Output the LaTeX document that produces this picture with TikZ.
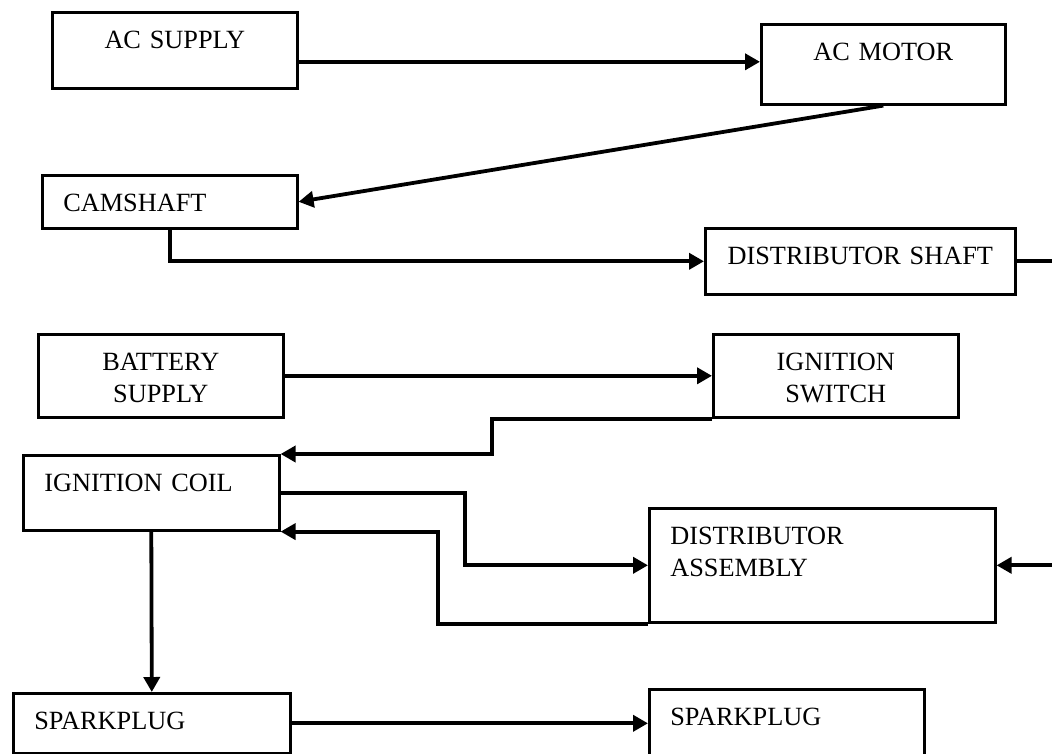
\documentclass[tikz,border=0pt]{standalone}
\usepackage{fontspec}
\setmainfont{Liberation Serif}
\usepackage{tikz}
\usetikzlibrary{arrows.meta}
\tikzstyle{block} = [rectangle, draw=black, line width=2.6pt, anchor=north west, inner ysep=0pt, text height=36pt, font=\fontsize{26.3}{32}\selectfont]
\tikzstyle{centred} = [block, inner xsep=0pt, align=center]
\tikzstyle{lefty} = [block, inner xsep=21pt, align=left]
\tikzstyle{arrow} = [line width=3.8pt, ->, >={Triangle[length=15pt,width=16pt]}]

\begin{document}
\begin{tikzpicture}[x=1pt, y=-1pt]
        \useasboundingbox (0,0) rectangle (1052,753);
        \clip (0,0) rectangle (1052,753);

        \node (acSupply) [centred, text width=245pt, text depth=40pt] at (51,11) {AC SUPPLY};
        \node (acMotor) [centred, text width=244pt, text depth=44pt] at (760,23) {AC MOTOR};
        \node (camshaft) [lefty, text width=213pt, text depth=17pt] at (41,174) {CAMSHAFT};
        \node (distShaft) [centred, text width=310pt, text depth=30pt] at (704,227) {DISTRIBUTOR SHAFT};
        \node (battery) [centred, text width=245pt, text depth=47pt] at (37,333) {BATTERY\\ SUPPLY};
        \node (ignSwitch) [centred, text width=245pt, text depth=47pt] at (712,333) {IGNITION\\ SWITCH};
        \node (ignCoil) [lefty, text width=214pt, text depth=39pt] at (22,454) {IGNITION COIL};
        \node (distAssembly) [lefty, text width=304pt, text depth=78pt] at (648,507) {DISTRIBUTOR\\ ASSEMBLY};
        \node (sparkA) [lefty, text width=235pt, text depth=24pt] at (12,692) {SPARKPLUG};
        \node (sparkB) [lefty, text width=233pt, text depth=47pt] at (648,688) {SPARKPLUG};

        \draw [arrow] ([yshift=2.5pt]acSupply.east |- acMotor.west) -- ([yshift=2.5pt]acMotor.west);
        \draw [arrow] (acMotor.south) -- (camshaft.east);
        \draw [arrow] (camshaft.south) |- (distShaft.west);
        \draw [arrow] (distShaft.east) -- ++(60,0) |- (distAssembly.east);
        \draw [arrow] (battery.east) -- (battery.east -| ignSwitch.west);
        \draw [arrow] (ignSwitch.south west) -- ++(-220,0) |- (ignCoil.north east);
        \draw [arrow] (ignCoil.east) -- ++(184,0) |- (distAssembly.west);
        \draw [arrow] (distAssembly.south west) -- ++(-210,0) |- (ignCoil.south east);
        \draw [arrow] (ignCoil.south) -- (sparkA.north);
        \draw [arrow] (sparkA.east) -- (sparkA.east -| sparkB.west);

    \end{tikzpicture}
\end{document}
